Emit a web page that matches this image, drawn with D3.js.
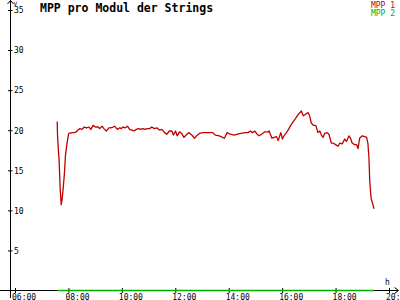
<!DOCTYPE html>
<html>
<head>
<meta charset="utf-8">
<script src="https://cdn.jsdelivr.net/npm/d3@7"></script>
<style>
	html, body { margin: 0; padding: 0; background: #fff; }
	svg text { font-family: 'DejaVu Sans Mono', monospace; }
</style>
</head>
<body>
<div id="chart"></div>
<script>
// time in decimal hours, value in V
const mpp1Times = [
	7.58, 7.59, 7.62, 7.65, 7.69, 7.73, 7.76, 7.80, 7.85, 7.89, 7.94, 7.98, 8.01,
	8.14, 8.21, 8.30, 8.34, 8.43, 8.51, 8.59, 8.68, 8.76, 8.84, 8.92, 9.01, 9.11,
	9.17, 9.26, 9.33, 9.42, 9.51, 9.58, 9.67, 9.73, 9.83, 9.92, 9.98, 10.04, 10.13,
	10.21, 10.29, 10.38, 10.45, 10.54, 10.63, 10.70, 10.79, 10.88, 10.95, 11.04, 11.12,
	11.22, 11.31, 11.41, 11.50, 11.60, 11.68, 11.78, 11.87, 11.93, 12.01, 12.07, 12.16,
	12.24, 12.32, 12.41, 12.50, 12.62, 12.72, 12.80, 12.90, 13.03, 13.15, 13.28, 13.40,
	13.50, 13.65, 13.77, 13.84, 13.94, 14.06, 14.21, 14.33, 14.46, 14.61, 14.73, 14.81,
	14.89, 14.98, 15.06, 15.14, 15.27, 15.35, 15.48, 15.51, 15.62, 15.70, 15.79, 15.85,
	15.95, 16.01, 16.07, 16.14, 16.24, 16.32, 16.42, 16.51, 16.61, 16.72, 16.79, 16.88,
	16.97, 17.03, 17.09, 17.17, 17.26, 17.34, 17.41, 17.47, 17.53, 17.59, 17.69, 17.75,
	17.84, 17.90, 18.00, 18.09, 18.16, 18.25, 18.34, 18.41, 18.50, 18.56, 18.62, 18.71,
	18.79, 18.84, 18.90, 19.00, 19.09, 19.16, 19.21, 19.25, 19.28, 19.33, 19.40, 19.44
]
const mpp1Values = [
	21.1, 19.5, 17.7, 16.3, 12.8, 10.7, 11.3, 12.6, 14.6, 16.9, 18.2, 19.0, 19.6,
	19.7, 19.7, 19.8, 20.0, 20.2, 20.1, 20.4, 20.3, 20.4, 20.1, 20.6, 20.4, 20.4,
	20.2, 20.5, 20.2, 19.9, 20.3, 20.3, 20.4, 20.5, 20.1, 20.3, 20.2, 20.4, 20.3,
	20.5, 20.1, 20.0, 19.9, 20.1, 20.2, 20.1, 20.2, 20.1, 20.2, 20.2, 20.4,
	20.2, 20.3, 20.0, 20.1, 19.7, 19.5, 19.9, 19.9, 19.4, 19.9, 19.3, 19.8,
	19.6, 19.1, 19.4, 19.7, 19.4, 19.0, 19.3, 19.6, 19.7, 19.7, 19.7, 19.7,
	19.4, 19.3, 19.1, 19.0, 19.7, 19.5, 19.4, 19.5, 19.6, 19.7, 19.7, 19.9,
	19.7, 19.9, 19.5, 19.3, 19.6, 19.8, 19.8, 19.9, 19.0, 19.1, 19.2, 18.7,
	19.7, 18.9, 19.3, 19.6, 20.1, 20.6, 21.1, 21.5, 22.0, 22.4, 21.8, 22.0,
	22.2, 21.8, 20.9, 20.6, 20.6, 19.7, 19.9, 19.4, 19.1, 19.6, 19.7, 19.5,
	18.4, 18.4, 18.2, 18.0, 18.4, 18.3, 18.9, 18.6, 19.3, 19.0, 18.4, 18.2,
	18.2, 17.7, 19.0, 19.3, 19.2, 19.1, 18.4, 16.5, 13.6, 11.5, 10.7, 10.2
]
const mpp2Times = [7.58, 19.44]
const mpp2Values = [0, 0]

const xTicks = [6, 8, 10, 12, 14, 16, 18, 20]
const yTicks = [5, 10, 15, 20, 25, 30, 35]
const seriesNames = ['MPP 1', 'MPP 2']
const seriesColors = ['#c00000', '#00b000']
const title = 'MPP pro Modul der Strings'

let width = 400,
		height = 300,
		xScMkr, yScMkr,
		svg

function buildSVG() {
	svg = d3.select('#chart')
		.append('svg')
			.attr('width', width)
			.attr('height', height)
}

function buildScales() {
	xScMkr = d3.scaleLinear()
		.domain([6, 20])
		.range([15, 389])

	yScMkr = d3.scaleLinear()
		.domain([0, 35])
		.range([290.5, 10])
}

function drawAxes() {
	let xAxis = svg.append('g')
		.attr('transform', `translate(0, ${yScMkr(0)})`)
		.call(d3.axisBottom(xScMkr)
			.tickValues(xTicks)
			.tickSizeOuter(0)
			.tickFormat(d => d3.format('02d')(d) + ':00'))

	xAxis.select('.domain').remove()
	xAxis.selectAll('.tick line')
		.attr('y1', -2.5).attr('y2', 2.5)
		.attr('stroke', '#000')
	xAxis.selectAll('.tick text')
		.attr('y', 9.5).attr('dy', 0)
		.attr('dx', -3.5)
		.style('text-anchor', 'start')
		.style('font-size', '8px')
		.attr('fill', '#000')

	let yAxis = svg.append('g')
		.attr('transform', 'translate(10.5, 0)')
		.call(d3.axisLeft(yScMkr)
			.tickValues(yTicks)
			.tickSizeOuter(0))

	yAxis.select('.domain').remove()
	yAxis.selectAll('.tick line')
		.attr('x1', -2.5).attr('x2', 2)
		.attr('stroke', '#000')
	yAxis.selectAll('.tick text')
		.attr('x', 3.5).attr('dy', '0.35em')
		.style('text-anchor', 'start')
		.style('font-size', '8px')
		.attr('fill', '#000')

	// axis lines with arrows
	svg.append('path')
		.attr('d', `M0,${yScMkr(0)}H398M394.5,${yScMkr(0) - 3}L398.5,${yScMkr(0)}L394.5,${yScMkr(0) + 3}`)
		.attr('fill', 'none')
		.attr('stroke', '#000')
	svg.append('path')
		.attr('d', 'M10.5,298V0.5M7.5,4L10.5,0.5L13.5,4')
		.attr('fill', 'none')
		.attr('stroke', '#000')

	svg.append('text')
		.attr('x', 13.5).attr('y', 5.5)
		.style('font-size', '6px')
		.text('V')
	svg.append('text')
		.attr('x', 385).attr('y', 285)
		.style('font-size', '8px')
		.text('h')
}

function drawLines() {
	let lineMkr = d3.line()
		.x(d => xScMkr(d[0]))
		.y(d => yScMkr(d[1]))

	let series = [
		d3.zip(mpp2Times, mpp2Values),
		d3.zip(mpp1Times, mpp1Values)
	]
	let colors = [seriesColors[1], seriesColors[0]]

	svg.append('g').classed('chart-group', true)
		.selectAll('path')
		.data(series)
		.join('path')
			.attr('d', lineMkr)
			.attr('fill', 'none')
			.attr('stroke', (d, i) => colors[i])
			.attr('stroke-width', (d, i) => i === 0 ? 1.5 : 1.3)
			.attr('stroke-linejoin', 'round')
}

function drawLabels() {
	svg.append('text')
		.attr('x', 40).attr('y', 12)
		.style('font-size', '11.5px')
		.style('font-weight', 'bold')
		.text(title)

	svg.selectAll('.legend')
		.data(seriesNames)
		.join('text')
			.classed('legend', true)
			.attr('x', 395).attr('y', (d, i) => 8 + i * 8)
			.style('text-anchor', 'end')
			.style('font-size', '8px')
			.attr('fill', (d, i) => seriesColors[i])
			.text(d => d)
}

buildSVG()
buildScales()
drawAxes()
drawLines()
drawLabels()
</script>
</body>
</html>
